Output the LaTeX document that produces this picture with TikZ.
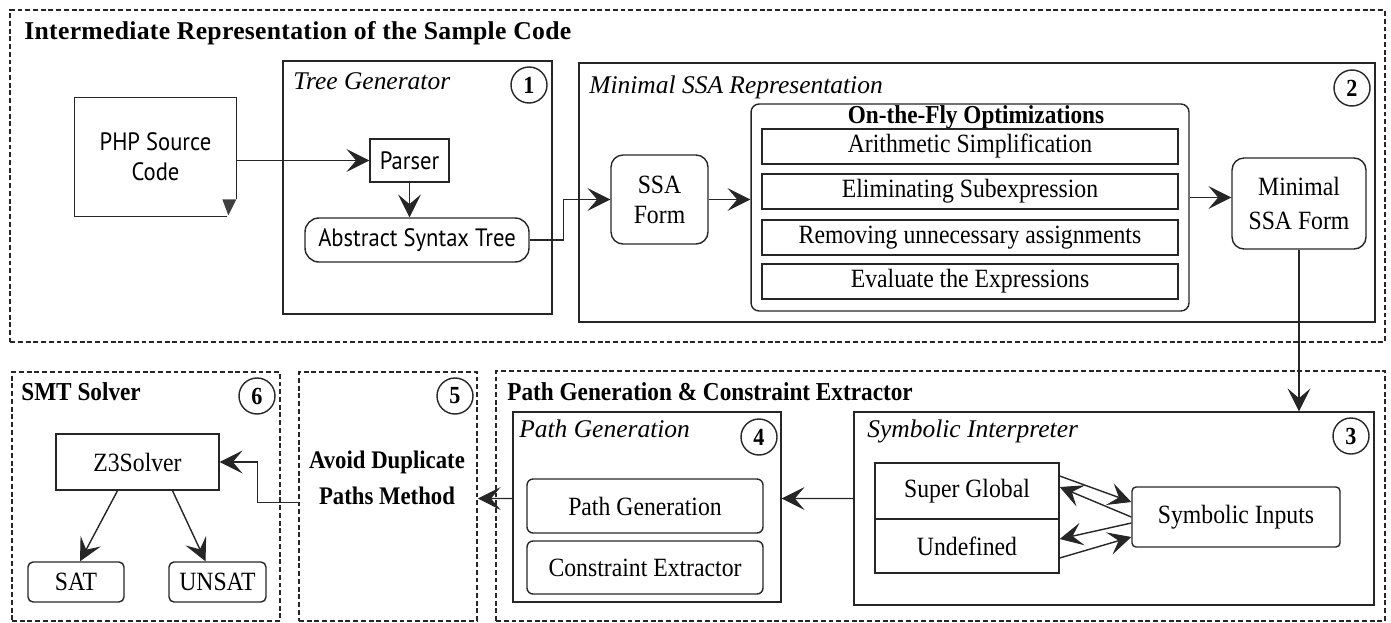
\documentclass[tikz,border=0pt]{standalone}
\usepackage{fontspec}
\setmainfont{Liberation Serif}
\newfontfamily\sansf[FakeStretch=0.9]{PT Sans}
\newfontfamily\condf[FakeStretch=0.9]{Liberation Serif}
\usetikzlibrary{arrows.meta,calc}
\tikzset{
  ln/.style={line width=0.8pt, draw=black!85},
  sbox/.style={ln, draw, inner sep=0pt, align=center},
  rbox/.style={sbox, rounded corners=#1},
  dbox/.style={draw=black!85, line width=0.9pt, dash pattern=on 2.8pt off 1.6pt, inner sep=0pt},
  serif/.style={font=\condf\fontsize{15}{18}\selectfont},
  optbox/.style={draw=black!85, line width=1.2pt, inner sep=0pt, minimum width=8.32cm, minimum height=0.7cm, serif},
  num/.style={circle, draw=black!85, line width=0.8pt, minimum size=0.72cm, inner sep=0pt, font=\condf\bfseries\fontsize{14}{14}\selectfont},
  ititle/.style={anchor=base west, inner sep=0pt, font=\itshape\fontsize{14.5}{16}\selectfont},
  btitle/.style={anchor=base west, inner sep=0pt, font=\condf\bfseries\fontsize{14.7}{16}\selectfont},
  conn/.style={ln, -{Stealth[length=13pt,width=13pt,inset=5.5pt,line width=0.5pt]}},
  sans/.style={font=\sansf\fontsize{14.3}{17}\selectfont},
}
\begin{document}
\begin{tikzpicture}[x=0.02cm,y=-0.02cm]
\useasboundingbox (0,0) rectangle (1391,622);

% ---------- top dashed region ----------
\node[dbox, minimum width=27.5cm, minimum height=6.64cm] (irbox) at (697.5,176) {};
\node[anchor=base west, inner sep=0pt, font=\addfontfeatures{LetterSpace=1.2}\bfseries\fontsize{14.6}{16}\selectfont] (irtitle) at (24,39) {Intermediate Representation of the Sample Code};

% PHP source document
\node[minimum width=3.22cm, minimum height=2.36cm, inner sep=0pt, align=center, sans] (php) at (155.5,157) {PHP Source\\Code};
\draw[ln] ($(php.south east)+(-9,0)$) -- (php.south west) -- (php.north west) -- (php.north east) -- ($(php.south east)+(0,-17)$);
\fill[black!75] ($(php.south east)+(-14,-17)$) -- ($(php.south east)+(0,-17)$) -- ($(php.south east)+(-8,-1)$) -- cycle;

% Tree generator
\node[sbox, minimum width=5.38cm, minimum height=5.06cm] (tgbox) at (417.5,187.5) {};
\node[ititle] (tgtitle) at (293,89) {Tree Generator};
\node[num] (n1) at (529,85) {1};
\node[sbox, minimum width=1.58cm, minimum height=0.86cm, sans] (parser) at (409.5,160.5) {Parser};
\node[rbox=0.28cm, minimum width=4.48cm, minimum height=0.88cm, sans] (ast) at (417,240) {Abstract Syntax Tree};

% Minimal SSA representation
\node[sbox, minimum width=15.92cm, minimum height=5.18cm] (ssabox) at (977,192.5) {};
\node[ititle] (ssatitle) at (589,93) {Minimal SSA Representation};
\node[num] (n2) at (1352,88) {2};
\node[rbox=0.24cm, minimum width=1.94cm, minimum height=1.78cm, serif, font=\condf\fontsize{15}{17}\selectfont] (ssaform) at (659.5,199.5) {SSA\\Form};
\node[rbox=0.16cm, minimum width=8.76cm, minimum height=4.14cm] (otf) at (970,207.5) {};
\node[anchor=base, inner sep=0pt, font=\condf\bfseries\fontsize{14.7}{16}\selectfont] (otftitle) at (976,123) {On-the-Fly Optimizations};
\node[optbox] (arith) at (970,146.5) {Arithmetic Simplification};
\node[optbox] (elim) at (970,191.5) {Eliminating Subexpression};
\node[optbox] (remov) at (970,237.5) {Removing unnecessary assignments};
\node[optbox] (evalx) at (970,281.5) {Evaluate the Expressions};
\node[rbox=0.24cm, minimum width=2.68cm, minimum height=1.82cm, serif, font=\condf\fontsize{15}{19}\selectfont] (minssa) at (1299,203.5) {Minimal\\SSA Form};

% ---------- bottom regions ----------
% SMT solver
\node[dbox, minimum width=5.36cm, minimum height=4.98cm] (smtbox) at (146,496.5) {};
\node[btitle] (smttitle) at (21,400) {SMT Solver};
\node[num] (n6) at (257,396) {6};
\node[sbox, minimum width=3.26cm, minimum height=1.12cm, serif] (z3) at (137.5,462) {Z3Solver};
\node[rbox=0.1cm, minimum width=1.92cm, minimum height=0.8cm, serif] (sat) at (76,582) {SAT};
\node[rbox=0.1cm, minimum width=1.94cm, minimum height=0.8cm, serif] (unsat) at (217.5,582) {UNSAT};

% Avoid duplicate
\node[dbox, minimum width=3.56cm, minimum height=4.98cm] (avbox) at (388,496.5) {};
\node[num] (n5) at (455,396) {5};
\node[align=center, inner sep=0pt, font=\condf\bfseries\fontsize{14.4}{20.5}\selectfont] (avtext) at (387,478) {Avoid Duplicate\\Paths Method};

% Path generation & constraint extractor
\node[dbox, minimum width=17.78cm, minimum height=5.0cm] (pgcbox) at (940.5,496) {};
\node[btitle] (pgctitle) at (507,400) {Path Generation \& Constraint Extractor};

\node[sbox, minimum width=5.36cm, minimum height=3.8cm] (pgbox) at (647,507) {};
\node[ititle] (pgtitle) at (519,437) {Path Generation};
\node[num] (n4) at (759,437) {4};
\node[rbox=0.12cm, minimum width=4.72cm, minimum height=1.08cm, serif] (pg1) at (645,506) {Path Generation};
\node[rbox=0.12cm, minimum width=4.72cm, minimum height=1.06cm, serif] (ce) at (645,567.5) {Constraint Extractor};

\node[sbox, minimum width=10.4cm, minimum height=3.86cm] (sibox) at (1114,508.5) {};
\node[ititle] (sititle) at (867,437) {Symbolic Interpreter};
\node[num] (n3) at (1351,436) {3};
\node[sbox, minimum width=3.68cm, minimum height=1.12cm, serif] (sg) at (967,491) {Super Global};
\node[sbox, minimum width=3.68cm, minimum height=1.08cm, serif] (und) at (967,546) {Undefined};
\node[rbox=0.08cm, minimum width=4.16cm, minimum height=1.2cm, serif] (syminp) at (1236,517) {Symbolic Inputs};

% ---------- connectors ----------
\draw[conn] (php.east |- parser.west) -- (parser.west);
\draw[conn] (parser.south) -- (parser.south |- ast.north);
\draw[conn] (ast.east) -- ++(34,0) |- (ssaform.west);
\draw[conn] (ssaform.east) -- (ssaform.east -| otf.west);
\draw[conn] ($(minssa.west -| otf.east)+(0,-6)$) -- ($(minssa.west)+(0,-6)$);
\draw[conn] (minssa.south) -- (minssa.south |- sibox.north);
\draw[conn] ($(sibox.west)+(0,-10)$) -- ($(pgbox.east)+(0,-8.5)$);
\draw[conn] ($(pgbox.west)+(0,-8.5)$) -- ($(avbox.east)+(0,2)$);
\draw[conn] ($(avbox.west)+(0,6)$) -- ++(-41,0) |- (z3.east);
\draw[conn] ($(z3.south)+(-20,0)$) -- ($(sat.north)+(4,0)$);
\draw[conn] ($(z3.south)+(35,0)$) -- ($(unsat.north)+(-12,0)$);
\draw[conn] ($(sg.east)+(0,-15)$) -- ($(syminp.west)+(0,-15)$);
\draw[conn] (syminp.west) -- ($(sg.east)+(0,-4)$);
\draw[conn] ($(syminp.west)+(0,6)$) -- ($(und.east)+(0,-7)$);
\draw[conn] ($(und.east)+(0,12)$) -- ($(syminp.west)+(0,20)$);
\end{tikzpicture}
\end{document}
